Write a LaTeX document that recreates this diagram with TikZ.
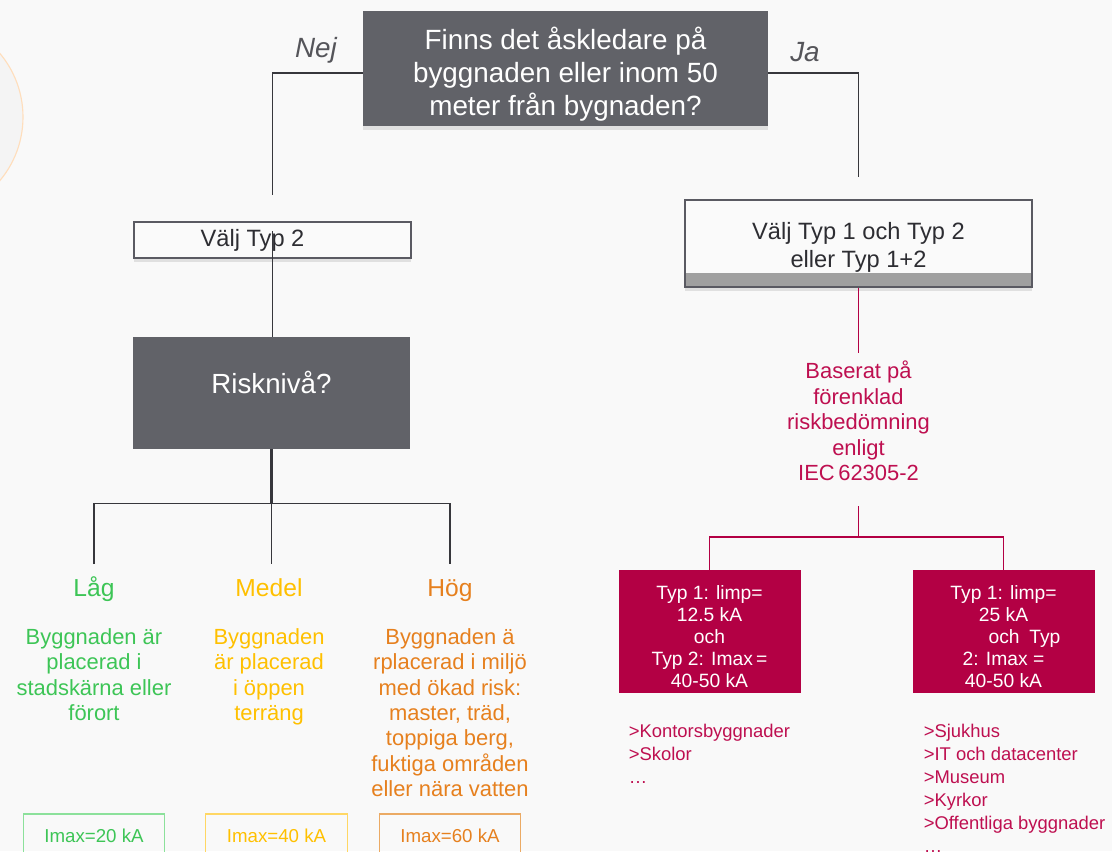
\documentclass[tikz,border=0pt]{standalone}
\usepackage{fontspec}
\setmainfont{Liberation Sans}
\usetikzlibrary{shapes.geometric, calc, shadows}

\definecolor{bgcol}{RGB}{249,249,249}
\definecolor{boxgray}{RGB}{97,98,104}
\definecolor{linegray}{RGB}{55,55,60}
\definecolor{labelgray}{RGB}{85,85,90}
\definecolor{framegray}{RGB}{90,90,98}
\definecolor{textgray}{RGB}{45,45,50}
\definecolor{boxwhite}{RGB}{250,250,250}
\definecolor{stripgray}{RGB}{160,160,160}
\definecolor{crimson}{RGB}{179,0,68}
\definecolor{crimsontext}{RGB}{190,15,80}
\definecolor{lowgreen}{RGB}{61,197,86}
\definecolor{lowframe}{RGB}{140,225,155}
\definecolor{midyellow}{RGB}{255,192,0}
\definecolor{midframe}{RGB}{255,215,100}
\definecolor{highorange}{RGB}{230,128,30}
\definecolor{highframe}{RGB}{235,170,100}
\definecolor{peach}{RGB}{255,222,188}
\definecolor{circlefill}{RGB}{244,244,244}

\tikzstyle{question} = [rectangle, minimum width=10.125cm, minimum height=2.775cm, text centered, align=center, fill=boxgray, text=white, font=\fontsize{19.8}{23.5}\selectfont, text height=2.51cm, drop shadow={shadow xshift=0pt, shadow yshift=-3pt, opacity=0.2}]
\tikzstyle{answer} = [text=labelgray, font=\itshape\fontsize{19.8}{23.5}\selectfont]
\tikzstyle{typbox} = [rectangle, draw=framegray, line width=1pt, fill=boxwhite, minimum width=6.925cm, minimum height=0.9cm, text=textgray, font=\fontsize{16.8}{19.9}\selectfont, drop shadow={shadow xshift=0pt, shadow yshift=-3pt, opacity=0.2}]
\tikzstyle{choicebox} = [rectangle, draw=framegray, line width=1pt, fill=boxwhite, minimum width=8.675cm, minimum height=2.175cm, align=center, text=textgray, font=\fontsize{16.8}{19.9}\selectfont, text height=1.33cm, path picture={\fill[stripgray] (path picture bounding box.south west) rectangle ([yshift=0.35cm]path picture bounding box.south east);}, drop shadow={shadow xshift=0pt, shadow yshift=-3pt, opacity=0.2}]
\tikzstyle{riskbox} = [rectangle, fill=boxgray, minimum width=6.925cm, minimum height=2.8cm, text=white, font=\fontsize{19.7}{23.5}\selectfont, text height=0.5cm, text depth=0.5cm]
\tikzstyle{redtext} = [text=crimsontext, align=center, inner sep=0pt, font=\fontsize{15.6}{18.1}\selectfont]
\tikzstyle{limpbox} = [rectangle, fill=crimson, minimum width=4.55cm, minimum height=3.075cm, text=white, align=center, font=\fontsize{13.7}{15.6}\selectfont, text height=2.8cm]
\tikzstyle{usage} = [text=crimsontext, align=left, inner sep=0pt, font=\fontsize{13.1}{16.4}\selectfont]
\tikzstyle{level} = [inner sep=0pt, text height=0.46cm, text depth=0.12cm, font=\fontsize{17.5}{21}\selectfont]
\tikzstyle{leveltext} = [align=center, inner sep=0pt, font=\fontsize{15.6}{18.1}\selectfont]
\tikzstyle{imaxbox} = [rectangle, line width=0.8pt, minimum width=3.54cm, minimum height=1.1cm, font=\fontsize{13.3}{16}\selectfont]
\tikzstyle{conn} = [draw=linegray, line width=0.9pt]
\tikzstyle{redconn} = [draw=crimson, line width=1.2pt]

\begin{document}
\begin{tikzpicture}[node distance=2cm]
\useasboundingbox (0,0) rectangle (27.8,-21.275);
\clip (0,0) rectangle (27.8,-21.275);
\fill[bgcol] (0,0) rectangle (27.8,-21.275);
\draw[peach, line width=0.8pt, fill=circlefill] (-1.9,-2.925) circle (2.475cm);

\node (question) [question] at (14.1375,-1.7125) {Finns det åskledare på\\byggnaden eller inom 50\\meter från bygnaden?};

\node (nej) [answer, left of=question, xshift=-4.2375cm, yshift=0.4625cm] {Nej};
\node (ja) [answer, right of=question, xshift=3.9875cm, yshift=0.4125cm] {Ja};

\node (typ2) [typbox, below of=question, xshift=-7.325cm, yshift=-2.2875cm] {Välj Typ 2\hspace*{1cm}};
\node (choice) [choicebox, below of=question, xshift=7.325cm, yshift=-2.375cm] {Välj Typ 1 och Typ 2\\eller Typ 1+2};

\node (risk) [riskbox, below of=typ2, xshift=-0.025cm, yshift=-1.825cm] {Risknivå?};

\node (basis) [redtext, below of=choice, yshift=-2.4375cm] {Baserat på\\förenklad\\riskbedömning\\enligt\\IEC\,62305-2};

\node (boxA) [limpbox, below of=basis, xshift=-3.725cm, yshift=-3.2625cm] {Typ 1: limp=\\12.5 kA\\och\\Typ 2: Imax\,=\\40-50 kA};
\node (boxB) [limpbox, below of=basis, xshift=3.625cm, yshift=-3.2625cm] {Typ 1: limp=\\25 kA\\\hspace*{1.05cm}och\enspace Typ\\2: Imax =\hspace*{1.25cm}\\40-50 kA};

\node (listA) [usage, below of=boxA, anchor=north west, xshift=-2.025cm, yshift=-0.3125cm] {>Kontorsbyggnader\\>Skolor\\…};
\node (listB) [usage, below of=boxB, anchor=north west, xshift=-2.0cm, yshift=-0.3125cm] {>Sjukhus\\>IT och datacenter\\>Museum\\>Kyrkor\\>Offentliga byggnader\\…};

% risk levels
\node (lowlvl) [level, text=lowgreen, below of=risk, xshift=-4.4375cm, yshift=-2.925cm] {Låg};
\node (midlvl) [level, text=midyellow, below of=risk, xshift=-0.0625cm, yshift=-2.925cm] {Medel};
\node (highlvl) [level, text=highorange, below of=risk, xshift=4.4625cm, yshift=-2.925cm] {Hög};

\node (lowdesc) [leveltext, text=lowgreen, below of=lowlvl, anchor=north, yshift=1.05cm] {Byggnaden är\\placerad i\\stadskärna eller\\förort};
\node (middesc) [leveltext, text=midyellow, below of=midlvl, anchor=north, yshift=1.05cm] {Byggnaden\\är placerad\\i öppen\\terräng};
\node (highdesc) [leveltext, text=highorange, below of=highlvl, anchor=north, yshift=1.05cm] {Byggnaden ä\\rplacerad i miljö\\med ökad risk:\\master, träd,\\toppiga berg,\\fuktiga områden\\eller nära vatten};

\node (lowimax) [imaxbox, draw=lowframe, text=lowgreen, below of=lowlvl, yshift=-4.15cm] {Imax=20 kA};
\node (midimax) [imaxbox, draw=midframe, text=midyellow, below of=midlvl, xshift=0.1875cm, yshift=-4.15cm] {Imax=40 kA};
\node (highimax) [imaxbox, draw=highframe, text=highorange, below of=highlvl, yshift=-4.15cm] {Imax=60 kA};

\coordinate (nejend) at ([yshift=0.65cm]typ2.north);
\coordinate (jaend) at ([yshift=0.55cm]choice.north);
\coordinate (fork) at ([yshift=-1.35cm]risk.south);
\coordinate (lowtop) at ([yshift=0.65cm]lowlvl.center);
\coordinate (midtop) at ([yshift=0.65cm]midlvl.center);
\coordinate (hightop) at ([yshift=0.65cm]highlvl.center);
\coordinate (splitA) at ([yshift=0.825cm]boxA.north);
\coordinate (splitB) at ([yshift=0.825cm]boxB.north);

\draw [conn] ([yshift=-0.1125cm]question.west) -| (nejend);
\draw [conn] ([yshift=-0.1125cm]question.east) -| (jaend);
\draw [conn] ([yshift=0.225cm]typ2.center) -- (typ2.center |- risk.north);

\draw [conn, line width=1.5pt] (risk.south) -- (fork);
\draw [conn] (lowtop) |- (fork) -| (hightop);
\draw [conn] (fork) -- (fork |- midtop);

\draw [redconn] (choice.south) -- ([yshift=0.2cm]basis.north);
\draw [redconn] ([yshift=-0.625cm]basis.south) |- (splitA) -- (boxA.north);
\draw [redconn] ([yshift=-0.625cm]basis.south) |- (splitB) -- (boxB.north);

\end{tikzpicture}
\end{document}
